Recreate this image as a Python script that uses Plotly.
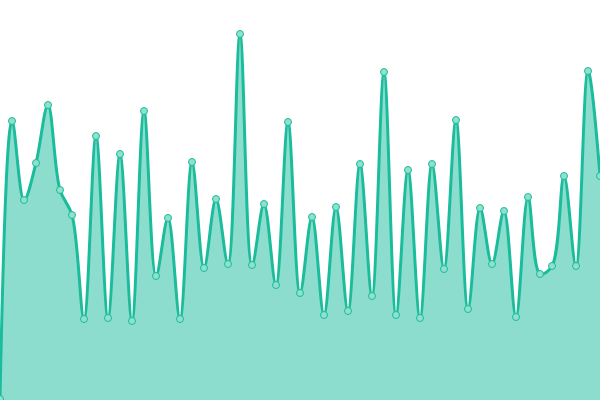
import plotly.graph_objects as go

x_index = list(range(51))
values = [1, 279, 200, 237, 295, 210, 185, 81, 264, 82,
          246, 79, 289, 124, 182, 81, 238, 132, 201, 136,
          366, 135, 196, 115, 278, 107, 183, 85, 193, 89,
          236, 104, 328, 85, 230, 82, 236, 131, 280, 91,
          192, 136, 189, 83, 203, 126, 134, 224, 134, 329,
          224]

fig = go.Figure()
fig.add_trace(go.Scatter(
    x=x_index, y=values, mode="lines+markers",
    line=dict(color="#1abc9c", width=3, shape="spline", smoothing=1),
    fill="tozeroy", fillcolor="rgba(26,188,156,0.5)",
    marker=dict(size=7, color="#8fe0cd", line=dict(color="#1abc9c", width=1)),
    hoverinfo="skip",
))
fig.update_layout(
    width=600, height=400,
    margin=dict(l=0, r=0, t=0, b=0),
    paper_bgcolor="white", plot_bgcolor="white",
    showlegend=False,
    xaxis=dict(range=[0, 50], visible=False, fixedrange=True),
    yaxis=dict(range=[0, 400], visible=False, fixedrange=True),
)
fig.write_html(
    "out.html",
    config={"displayModeBar": False},
    post_script="document.body.style.margin='0';document.body.style.overflow='hidden';",
)
